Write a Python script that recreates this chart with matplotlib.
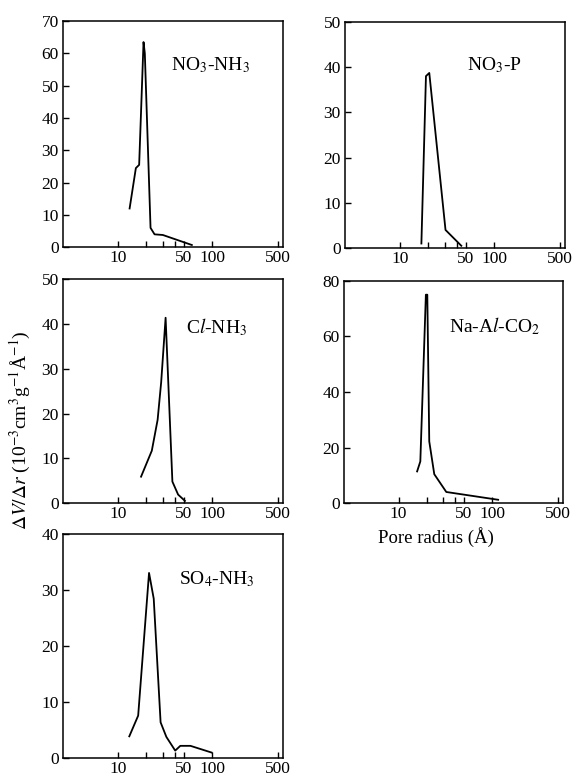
import matplotlib
matplotlib.use("Agg")
import matplotlib.pyplot as plt
from matplotlib.ticker import FixedLocator, NullFormatter, FixedFormatter

plt.rcParams['font.family'] = ['Liberation Serif', 'DejaVu Serif']
plt.rcParams['mathtext.fontset'] = 'stix'

# pore radius (A) and dV/dr values
no3_nh3_r = [13.3, 15.5, 16.8, 18.7, 19.3, 22.2, 24.5, 30.0, 61.0]
no3_nh3_v = [12.0, 24.5, 25.5, 63.5, 60.0, 6.0, 4.0, 3.8, 0.7]

no3_p_r = [16.9, 18.9, 20.5, 30.5, 44.9]
no3_p_v = [1.0, 38.0, 38.7, 4.0, 0.5]

cl_nh3_r = [17.6, 22.9, 26.4, 28.8, 32.1, 37.9, 43.6, 51.5]
cl_nh3_v = [5.9, 11.7, 18.6, 27.0, 41.4, 4.8, 1.9, 0.5]

na_al_r = [15.8, 17.1, 19.6, 20.3, 21.3, 24.1, 32.4, 116.0]
na_al_v = [11.4, 15.0, 75.0, 75.0, 22.2, 10.4, 4.0, 1.2]

so4_nh3_r = [13.2, 16.4, 21.4, 24.0, 28.4, 32.7, 40.6, 46.0, 59.0, 99.0]
so4_nh3_v = [3.9, 7.6, 33.1, 28.5, 6.4, 3.8, 1.35, 2.2, 2.2, 1.0]

panels = [
    (no3_nh3_r, no3_nh3_v, 70, [0, 10, 20, 30, 40, 50, 60, 70], r'NO$_3$-NH$_3$',
     [0.110, 0.683, 0.385, 0.290], (0.67, 0.805)),
    (no3_p_r, no3_p_v, 50, [0, 10, 20, 30, 40, 50], r'NO$_3$-P',
     [0.603, 0.682, 0.385, 0.290], (0.68, 0.81)),
    (cl_nh3_r, cl_nh3_v, 50, [0, 10, 20, 30, 40, 50], r'C$\mathit{l}$-NH$_3$',
     [0.110, 0.355, 0.385, 0.287], (0.70, 0.786)),
    (na_al_r, na_al_v, 80, [0, 20, 40, 60, 80], r'Na-A$\mathit{l}$-CO$_2$',
     [0.601, 0.355, 0.383, 0.285], (0.69, 0.797)),
    (so4_nh3_r, so4_nh3_v, 40, [0, 10, 20, 30, 40], r'SO$_4$-NH$_3$',
     [0.110, 0.028, 0.385, 0.287], (0.70, 0.80)),
]

fig = plt.figure(figsize=(5.72, 7.8), dpi=100)

for r, v, ymax, yticks, name, rect, tpos in panels:
    ax = fig.add_axes(rect)
    ax.plot(r, v, color='black', lw=1.3)
    ax.set_xscale('log')
    ax.set_xlim(2.6, 570)
    ax.set_ylim(0, ymax)
    ax.xaxis.set_major_locator(FixedLocator([10, 50, 100, 500]))
    ax.xaxis.set_major_formatter(FixedFormatter(['10', '50', '100', '500']))
    ax.xaxis.set_minor_locator(FixedLocator([20, 30, 40]))
    ax.xaxis.set_minor_formatter(NullFormatter())
    ax.set_yticks(yticks)
    ax.tick_params(which='both', direction='in', labelsize=12.5)
    ax.tick_params(axis='x', pad=2)
    ax.tick_params(axis='y', pad=3)
    ax.tick_params(which='major', length=4, width=1)
    ax.tick_params(which='minor', length=4, width=1)
    for s in ax.spines.values():
        s.set_linewidth(1.1)
    ax.text(tpos[0], tpos[1], name, transform=ax.transAxes, ha='center',
            va='center', fontsize=14)

fig.text(0.035, 0.449,
         r'$\mathit{\Delta V/\Delta r}$ (10$^{-3}$cm$^3$g$^{-1}$Å$^{-1}$)',
         rotation=90, ha='center', va='center', fontsize=14)
fig.text(0.762, 0.311, 'Pore radius (Å)', ha='center', va='center', fontsize=13.5)

fig.savefig('out.png', dpi=100)
